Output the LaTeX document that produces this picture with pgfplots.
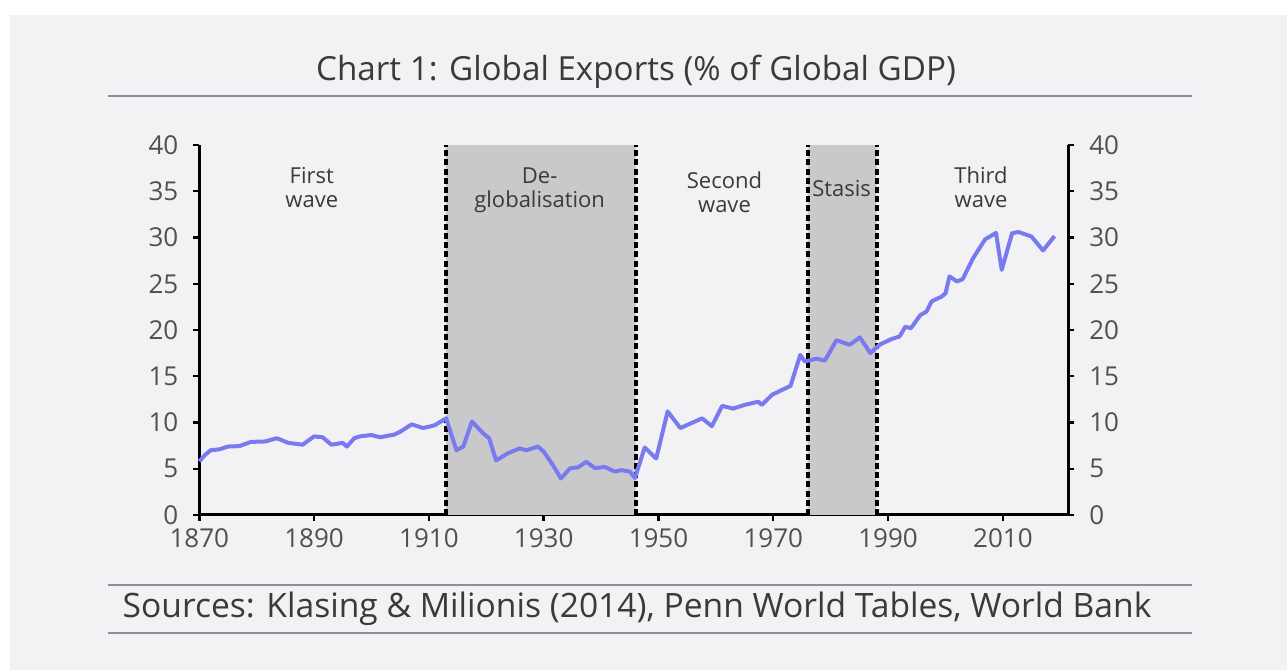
\documentclass[border=0pt]{standalone}
\usepackage{fontspec}
\setmainfont{Open Sans}
\usepackage{pgfplots}
\pgfplotsset{compat=1.18}
\definecolor{bgc}{HTML}{F2F2F4}
\definecolor{shade}{HTML}{C9C9CB}
\definecolor{linec}{HTML}{7A7AF0}
\definecolor{txt}{HTML}{3A3A3A}
\definecolor{ticktxt}{HTML}{505050}
\definecolor{rule}{HTML}{8E8E9A}
\begin{document}
\begin{tikzpicture}[x=1pt,y=1pt]
% background (1287x670 px, 1px = 0.5pt)
\fill[white] (0,0) rectangle (643.5,335);
\fill[bgc] (5,0) rectangle (643.5,327.5);
\draw[rule, line width=0.6pt] (54,287) -- (596,287);
\draw[rule, line width=0.6pt] (54,42.5) -- (596,42.5);
\draw[rule, line width=0.6pt] (54,18.5) -- (596,18.5);
\node[txt, font=\fontsize{16.6}{18}\selectfont] at (318,299) {Chart 1: Global Exports (\% of Global GDP)};
\node[txt, font=\fontsize{16.8}{18}\selectfont] at (318.5,30.5) {Sources: Klasing \& Milionis (2014), Penn World Tables, World Bank};
\begin{axis}[
  at={(99.65pt,77.5pt)}, anchor=south west,
  scale only axis, width=434.5pt, height=185pt,
  xmin=1870, xmax=2021.4, ymin=0, ymax=40,
  axis x line=bottom, axis y line=left,
  axis line style={line width=1.5pt, -},
  xtick={1870,1890,...,2010}, ytick={0,5,...,40},
  tick align=outside, tick style={line width=1.2pt, black},
  major tick length=3pt,
  /pgf/number format/1000 sep={},
  /pgf/number format/assume math mode=true,
  tick label style={font=\fontsize{13}{14}\selectfont, text=ticktxt},
  yticklabel style={xshift=-4pt},
  xticklabel style={yshift=-0.5pt},
  clip=false,
]
\addplot[fill=shade, draw=none] coordinates {(1913,0)(1913,40)(1946,40)(1946,0)} \closedcycle;
\addplot[fill=shade, draw=none] coordinates {(1976,0)(1976,40)(1988,40)(1988,0)} \closedcycle;
\addplot[black, line width=2pt, dash pattern=on 3pt off 1.6pt] coordinates {(1913,0)(1913,40)};
\addplot[black, line width=2pt, dash pattern=on 3pt off 1.6pt] coordinates {(1946,0)(1946,40)};
\addplot[black, line width=2pt, dash pattern=on 3pt off 1.6pt] coordinates {(1976,0)(1976,40)};
\addplot[black, line width=2pt, dash pattern=on 3pt off 1.6pt] coordinates {(1988,0)(1988,40)};
\addplot[linec, line width=2pt, line join=round] coordinates {
(1870,5.8)(1871,6.5)(1872,7.0)(1873.5,7.1)(1875,7.4)(1877,7.45)(1879,7.9)(1881.5,7.95)
(1883.5,8.3)(1885.5,7.8)(1888,7.6)(1890,8.5)(1891.5,8.4)(1893,7.6)(1895,7.8)(1895.7,7.4)
(1897,8.3)(1898,8.5)(1900,8.65)(1901.5,8.4)(1904,8.7)(1905,9.0)(1907,9.8)(1909,9.4)
(1911,9.7)(1913,10.45)(1914.8,7.0)(1916,7.4)(1917.5,10.1)(1919.5,8.8)(1920.5,8.3)
(1921.7,5.9)(1923.7,6.65)(1925.8,7.2)(1927,7.0)(1929,7.4)(1930,6.85)(1931.6,5.4)
(1933,3.95)(1934.6,5.05)(1936,5.15)(1937.4,5.75)(1939,5.05)(1940.6,5.2)(1942.4,4.7)
(1943.5,4.85)(1945,4.7)(1945.9,4.0)(1947.6,7.3)(1949.6,6.1)(1951.6,11.2)(1953.8,9.4)
(1955.8,9.95)(1957.6,10.45)(1959.3,9.6)(1961.1,11.8)(1963,11.5)(1965,11.9)(1967.4,12.25)
(1968,11.9)(1969.8,13.0)(1971.8,13.6)(1973,13.95)(1974.7,17.3)(1975.5,16.6)(1977.5,16.9)
(1979,16.7)(1981,18.9)(1983.3,18.4)(1985.1,19.2)(1986.9,17.5)(1988.5,18.4)(1990.5,19.0)
(1992,19.3)(1993,20.35)(1994,20.2)(1995.6,21.6)(1996.7,22.0)(1997.6,23.1)(1999.3,23.6)
(2000,23.95)(2000.7,25.8)(2002,25.25)(2003,25.5)(2004.8,27.75)(2006.9,29.8)(2008.8,30.5)
(2009.8,26.5)(2011.6,30.45)(2012.7,30.6)(2015,30.1)(2017,28.6)(2019,30.15)
};
\node[txt, align=center, font=\fontsize{11}{12}\selectfont] at (axis cs:1889.6,35.4) {First\\wave};
\node[txt, align=center, font=\fontsize{11}{12}\selectfont] at (axis cs:1929.3,35.1) {De-\\globalisation};
\node[txt, align=center, font=\fontsize{11}{12}\selectfont] at (axis cs:1961.5,34.9) {Second\\wave};
\node[txt, align=center, font=\fontsize{11}{12}\selectfont] at (axis cs:1981.9,35.3) {Stasis};
\node[txt, align=center, font=\fontsize{11}{12}\selectfont] at (axis cs:2006.2,35.4) {Third\\wave};
\end{axis}
\begin{axis}[
  at={(99.65pt,77.5pt)}, anchor=south west,
  scale only axis, width=434.5pt, height=185pt,
  xmin=1870, xmax=2021.4, ymin=0, ymax=40,
  hide x axis, axis y line=right,
  axis line style={line width=1.5pt, -},
  ytick={0,5,...,40},
  tick align=outside, tick style={line width=1.2pt, black},
  major tick length=3pt,
  /pgf/number format/assume math mode=true,
  tick label style={font=\fontsize{13}{14}\selectfont, text=ticktxt},
  yticklabel style={xshift=4pt},
]
\addplot[draw=none] coordinates {(1870,0)};
\end{axis}
\end{tikzpicture}
\end{document}
